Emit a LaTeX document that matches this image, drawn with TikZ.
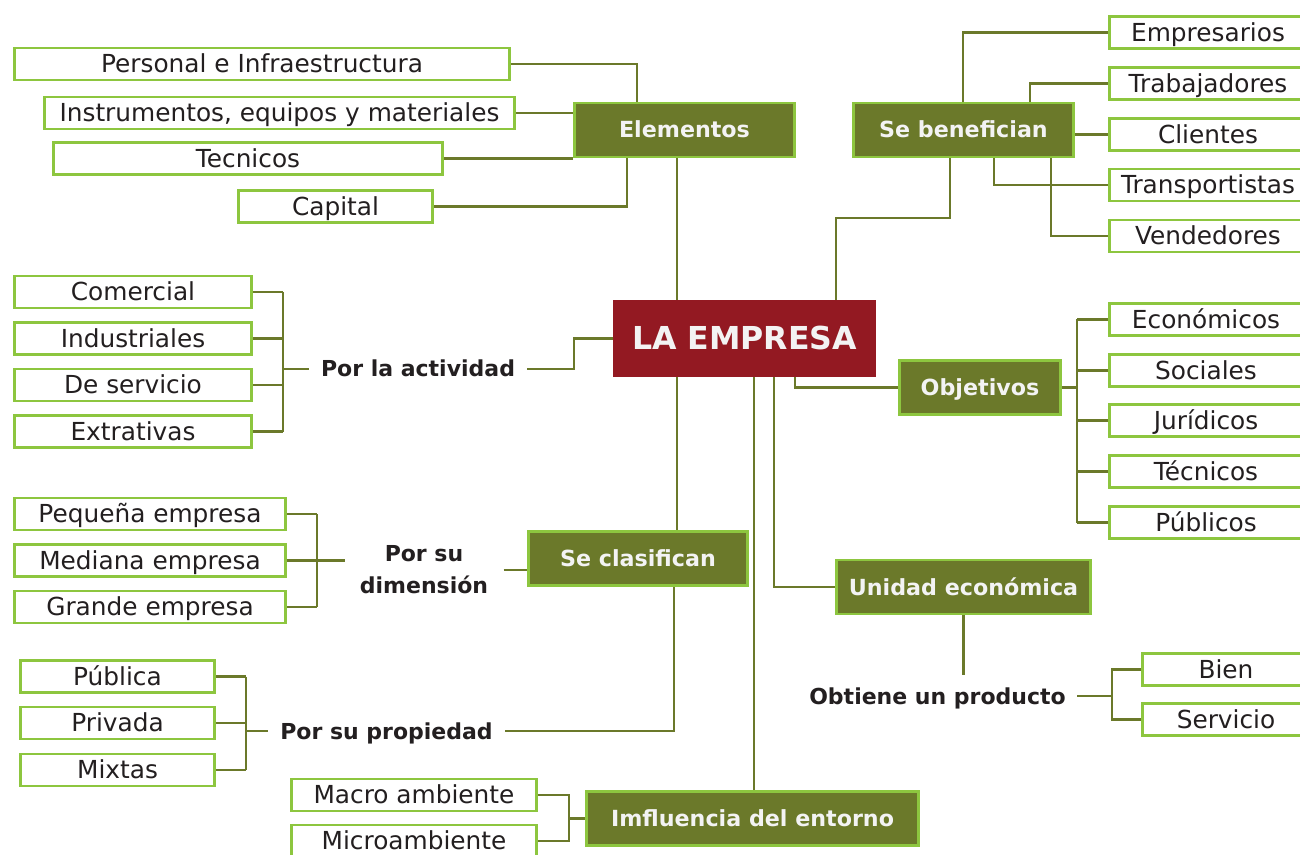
\documentclass[tikz,border=0pt]{standalone}
\usepackage{fontspec}
\setmainfont{DejaVu Sans}
\usepackage{xcolor}
\definecolor{emolive}{RGB}{107,121,42}
\definecolor{emlime}{RGB}{141,198,63}
\definecolor{emred}{RGB}{147,25,34}
\definecolor{emink}{RGB}{35,31,32}
\definecolor{emwhite}{RGB}{243,243,243}
\usepackage{tikz}

\begin{document}
\begin{tikzpicture}[x=0.5pt, y=-0.5pt,
  leafbox/.style={draw=emlime, line width=1.4pt, fill=white, minimum height=16pt, inner sep=0pt, text=emink, font=\fontsize{12.4}{14}\selectfont, text height=11.2pt, text depth=2.5pt},
  headbox/.style={draw=emlime, line width=1.4pt, fill=emolive, minimum height=27pt, inner sep=0pt, text=emwhite, font=\fontsize{11.1}{13}\selectfont\bfseries, text height=10.5pt, text depth=2.5pt},
  tagtext/.style={text=emink, font=\fontsize{11}{16}\selectfont\bfseries, inner ysep=4pt, text height=10.5pt, text depth=2.5pt},
  link/.style={draw=emolive, line width=1.4pt}]
  \useasboundingbox (0,0) rectangle (1300,855);
  \clip (0,0) rectangle (1300,855);

  \node[fill=emred, minimum width=131.5pt, minimum height=38.5pt, inner sep=0pt, text=emwhite, font=\fontsize{15.8}{18}\selectfont\bfseries, text height=14pt, text depth=2.7pt] (emp) at (744.5,338.5) {LA EMPRESA};

  \node[headbox, minimum width=110.1pt] (elem) at (684.5,130) {Elementos};
  \node[headbox, minimum width=110.1pt] (benef) at (963.5,130) {Se benefician};
  \node[headbox, minimum width=80.6pt] (obje) at (980,387.5) {Objetivos};
  \node[headbox, minimum width=109.6pt] (clas) at (638,558.5) {Se clasifican};
  \node[headbox, minimum width=127.1pt] (unid) at (963.5,587) {Unidad económica};
  \node[headbox, minimum width=166.1pt] (infl) at (752.5,818.5) {Imfluencia del entorno};

  \node[leafbox, minimum width=247.6pt] (pers) at (262,64) {Personal e Infraestructura};
  \node[leafbox, minimum width=235.1pt] (instr) at (279.5,113) {Instrumentos, equipos y materiales};
  \node[leafbox, minimum width=194.6pt] (tecn) at (248,158.5) {Tecnicos};
  \node[leafbox, minimum width=97.1pt] (capi) at (335.5,206.5) {Capital};

  \node[leafbox, minimum width=98.6pt] (empr) at (1208,32.5) {Empresarios};
  \node[leafbox, minimum width=98.6pt] (trab) at (1208,83.5) {Trabajadores};
  \node[leafbox, minimum width=98.6pt] (clie) at (1208,134.5) {Clientes};
  \node[leafbox, minimum width=98.6pt] (tran) at (1208,185) {Transportistas};
  \node[leafbox, minimum width=98.6pt] (vend) at (1208,236) {Vendedores};

  \node[leafbox, minimum width=118.6pt] (come) at (133,292) {Comercial};
  \node[leafbox, minimum width=118.6pt] (indu) at (133,338.5) {Industriales};
  \node[leafbox, minimum width=118.6pt] (serv) at (133,385) {De servicio};
  \node[leafbox, minimum width=118.6pt] (extr) at (133,431.5) {Extrativas};
  \node[tagtext, inner xsep=6pt] (act) at (418,369) {Por la actividad};

  \node[leafbox, minimum width=135.6pt] (pequ) at (150,514) {Pequeña empresa};
  \node[leafbox, minimum width=135.6pt] (medi) at (150,560.5) {Mediana empresa};
  \node[leafbox, minimum width=135.6pt] (gran) at (150,607) {Grande empresa};
  \node[tagtext, inner xsep=7.5pt, align=center, text height=, text depth=] (dim) at (424,570) {Por su\\dimensión};

  \node[leafbox, minimum width=97.1pt] (publ) at (117.5,676.5) {Pública};
  \node[leafbox, minimum width=97.1pt] (priv) at (117.5,723) {Privada};
  \node[leafbox, minimum width=97.1pt] (mixt) at (117.5,770) {Mixtas};
  \node[tagtext, inner xsep=6pt] (prop) at (386.5,731) {Por su propiedad};

  \node[leafbox, minimum width=122.6pt] (macr) at (414,795) {Macro ambiente};
  \node[leafbox, minimum width=122.6pt] (micr) at (414,841) {Microambiente};

  \node[leafbox, minimum width=96.6pt] (econ) at (1206,319.5) {Económicos};
  \node[leafbox, minimum width=96.6pt] (soci) at (1206,370.5) {Sociales};
  \node[leafbox, minimum width=96.6pt] (juri) at (1206,420.5) {Jurídicos};
  \node[leafbox, minimum width=96.6pt] (tecs) at (1206,471.5) {Técnicos};
  \node[leafbox, minimum width=96.6pt] (publi) at (1206,522.5) {Públicos};

  \node[tagtext, inner xsep=5.5pt] (obt) at (937.5,696) {Obtiene un producto};
  \node[leafbox, minimum width=83.6pt] (bien) at (1226,669.5) {Bien};
  \node[leafbox, minimum width=83.6pt] (servi) at (1226,719.5) {Servicio};

  \draw[link] (pers.east) -| (elem.north -| 637,0);
  \draw[link] (instr.east) -- (instr.east -| elem.west);
  \draw[link] (tecn.east) -- (tecn.east -| elem.west);
  \draw[link] (capi.east) -| (elem.south -| 627,0);
  \draw[link] (elem.south -| 677,0) -- (emp.north -| 677,0);

  \draw[link] (emp.north -| 836,0) -- (836,218) -| (benef.south -| 950,0);
  \draw[link] (benef.north -| 963,0) |- (empr.west);
  \draw[link] (benef.north -| 1030,0) |- (trab.west);
  \draw[link] (clie.west -| benef.east) -- (clie.west);
  \draw[link] (benef.south -| 994,0) |- (tran.west);
  \draw[link] (benef.south -| 1051,0) |- (vend.west);

  \foreach \n in {come,indu,serv,extr}
    \draw[link] (\n.east) -- (\n.east -| 283,0);
  \draw[link] (come.east -| 283,0) -- (extr.east -| 283,0);
  \draw[link] (act.west -| 283,0) -- (act.west);
  \draw[link] (act.east) -| (emp.west -| 574,0) -- (emp.west);

  \foreach \n in {pequ,medi,gran}
    \draw[link] (\n.east) -- (\n.east -| 317,0);
  \draw[link] (pequ.east -| 317,0) -- (gran.east -| 317,0);
  \draw[link] (medi.east -| 317,0) -- (medi.east -| dim.west);
  \draw[link] (dim.east) -- (dim.east -| clas.west);

  \foreach \n in {publ,priv,mixt}
    \draw[link] (\n.east) -- (\n.east -| 246,0);
  \draw[link] (publ.east -| 246,0) -- (mixt.east -| 246,0);
  \draw[link] (prop.west -| 246,0) -- (prop.west);
  \draw[link] (prop.east) -| (clas.south -| 674,0);

  \draw[link] (emp.south -| 677,0) -- (clas.north -| 677,0);
  \draw[link] (emp.south -| 754,0) -- (infl.north -| 754,0);
  \draw[link] (emp.south -| 774,0) |- (unid.west);
  \draw[link] (emp.south -| 795,0) |- (obje.west);

  \draw[link] (macr.east) -| (micr.east -| 569,0) -- (micr.east);
  \draw[link] (infl.west -| 569,0) -- (infl.west);

  \draw[link] (obje.east) -- (obje.east -| 1077,0);
  \foreach \n in {econ,soci,juri,tecs,publi}
    \draw[link] (\n.west) -- (\n.west -| 1077,0);
  \draw[link] (econ.west -| 1077,0) -- (publi.west -| 1077,0);

  \draw[link] (unid.south) -- (unid.south |- obt.north);
  \draw[link] (obt.east) -- (obt.east -| 1112,0);
  \draw[link] (bien.west) -| (servi.west -| 1112,0) -- (servi.west);
\end{tikzpicture}
\end{document}
